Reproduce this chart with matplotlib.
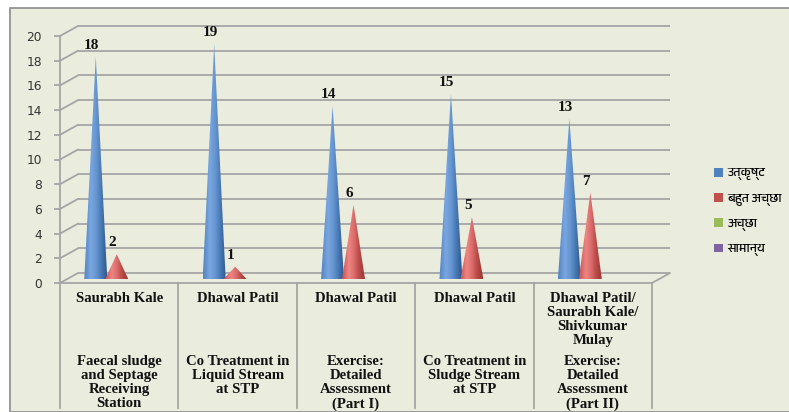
import numpy as np
import matplotlib
matplotlib.use("Agg")
import matplotlib.pyplot as plt
from matplotlib.patches import Rectangle, Patch, PathPatch, ConnectionPatch
from matplotlib.path import Path
from matplotlib.colors import LinearSegmentedColormap
import matplotlib.font_manager as fm
from matplotlib.ft2font import FT2Font

# ---- data ----
presenters = ["Saurabh Kale", "Dhawal Patil", "Dhawal Patil", "Dhawal Patil",
              "Dhawal Patil/\nSaurabh Kale/\nShivkumar\nMulay"]
sessions = ["Faecal sludge\nand Septage\nReceiving\nStation",
            "Co Treatment in\nLiquid Stream\nat STP",
            "Exercise:\nDetailed\nAssessment\n(Part I)",
            "Co Treatment in\nSludge Stream\nat STP",
            "Exercise:\nDetailed\nAssessment\n(Part II)"]
series_names = ["उत्कृष्ट", "बहुत अच्छा", "अच्छा", "सामान्य"]
excellent = [18, 19, 14, 15, 13]
very_good = [2, 1, 6, 5, 7]
good = [0, 0, 0, 0, 0]
average = [0, 0, 0, 0, 0]
y_ticks = [0, 2, 4, 6, 8, 10, 12, 14, 16, 18, 20]

series_values = [excellent, very_good, good, average]
series_colors = ["#4F81BD", "#C0504D", "#9BBB59", "#8064A2"]
cone_shades = [("#2E5790", "#79A6E0"), ("#9E3431", "#EE8583"),
               ("#6E8C35", "#B9D77F"), ("#5A4380", "#A48BC6")]


def find_devanagari_font():
    found = []
    for f in fm.fontManager.ttflist:
        try:
            if 0x0909 in FT2Font(f.fname).get_charmap():
                found.append(f.name)
        except Exception:
            continue
    # prefer a dedicated Devanagari face when one exists
    found.sort(key=lambda n: (0 if "Devanagari" in n else 1, n))
    return found[0] if found else None


deva = find_devanagari_font()
legend_family = ([deva] if deva else []) + ["Noto Sans", "DejaVu Sans"]

W, H = 789, 412
fig = plt.figure(figsize=(W / 100, H / 100), dpi=100)
fig.patch.set_facecolor("white")

# chart area background
fig.patches.append(Rectangle((10 / W, 0), 1.0, (H - 8) / H, transform=fig.transFigure,
                             facecolor="#EAEDDD", edgecolor="#8C8C8C", lw=1.2, zorder=-10))

GRID = "#A5A5A5"
LW = 1.3
SERIF = "Liberation Serif"


def px_axes(left, y0, y20, right):
    return [left / W, (H - y0) / H, (right - left) / W, (y0 - y20) / H]


# front plane (value axis and floor front edge)
ax = fig.add_axes(px_axes(60, 283, 36, 652))
# back wall plane
ax_back = fig.add_axes(px_axes(78, 273, 26, 670))
# plane in which the cones stand
ax_cone = fig.add_axes(px_axes(68, 279, 32, 660))

for a in (ax, ax_back, ax_cone):
    a.set_xlim(-0.5, 4.5)
    a.set_ylim(0, 20)
    a.patch.set_visible(False)
for a in (ax_back, ax_cone):
    a.axis("off")

ax_back.set_zorder(0)
ax.set_zorder(1)
ax_cone.set_zorder(2)

# back wall gridlines and side-wall diagonals
for v in y_ticks:
    ax_back.plot([-0.5, 4.5], [v, v], color=GRID, lw=LW, clip_on=False, solid_capstyle="butt")
    fig.add_artist(ConnectionPatch(xyA=(-0.5, v), coordsA=ax.transData,
                                   xyB=(-0.5, v), coordsB=ax_back.transData,
                                   color=GRID, lw=LW))
# floor right edge
fig.add_artist(ConnectionPatch(xyA=(4.5, 0), coordsA=ax.transData,
                               xyB=(4.5, 0), coordsB=ax_back.transData,
                               color=GRID, lw=LW))

# front axis styling
for s in ("top", "right"):
    ax.spines[s].set_visible(False)
ax.spines["left"].set_color(GRID)
ax.spines["bottom"].set_color(GRID)
ax.spines["left"].set_linewidth(LW)
ax.spines["bottom"].set_linewidth(LW)
ax.set_yticks(y_ticks)
ax.set_yticklabels([str(t) for t in y_ticks], fontsize=8.8, color="#333333",
                   family="DejaVu Sans")
ax.tick_params(axis="y", length=4, width=LW, color=GRID, pad=9)
ax.set_xticks([])

# category table lines
for k in range(6):
    ax.axvline(-0.5 + k, ymin=-0.505, ymax=0, color=GRID, lw=LW, clip_on=False)

# category labels
for i in range(5):
    ax.annotate(presenters[i], xy=(i, 0), xytext=(0, -6.5), textcoords="offset points",
                ha="center", va="top", fontsize=10.6, fontweight="bold",
                family=SERIF, linespacing=1.1, color="#111111",
                annotation_clip=False)
    ax.annotate(sessions[i], xy=(i, 0), xytext=(0, -52), textcoords="offset points",
                ha="center", va="top", fontsize=10.6, fontweight="bold",
                family=SERIF, linespacing=1.1, color="#111111",
                annotation_clip=False)

# cones
slot = 0.177
half_w = 0.097
ry = 0.2
t = np.linspace(0, np.pi, 40)
grad = np.linspace(0, 1, 64)
profile = np.interp(grad, [0, 0.3, 0.55, 1.0], [0.55, 1.0, 0.75, 0.0])
img = np.tile(profile, (2, 1))

for s_idx, vals in enumerate(series_values):
    dark, light = cone_shades[s_idx]
    cmap = LinearSegmentedColormap.from_list("c%d" % s_idx, [dark, series_colors[s_idx], light])
    for i, v in enumerate(vals):
        if v <= 0:
            continue
        xc = i + (s_idx - 1.5) * slot
        verts = [(xc, v)] + [(xc + half_w * np.cos(a), -ry * np.sin(a)) for a in t] + [(xc, v)]
        codes = [Path.MOVETO] + [Path.LINETO] * (len(verts) - 2) + [Path.CLOSEPOLY]
        path = Path(verts, codes)
        patch = PathPatch(path, facecolor="none", edgecolor="none", transform=ax_cone.transData)
        ax_cone.add_patch(patch)
        im = ax_cone.imshow(img, cmap=cmap, vmin=0, vmax=1, aspect="auto",
                            extent=[xc - half_w, xc + half_w, -ry, v],
                            interpolation="bilinear", clip_on=True)
        im.set_clip_path(patch)
        ax_cone.annotate(str(v), xy=(xc, v), xytext=(-3, 3.5), textcoords="offset points",
                         ha="center", va="bottom", fontsize=11, fontweight="bold",
                         family=SERIF, color="#111111", annotation_clip=False)

ax_cone.set_xlim(-0.5, 4.5)
ax_cone.set_ylim(0, 20)

# legend
handles = [Patch(facecolor=c, edgecolor="none") for c in series_colors]
fig.legend(handles, series_names, loc="center left", bbox_to_anchor=(708 / W, (H - 212) / H),
           frameon=False, handlelength=0.7, handleheight=0.7,
           handletextpad=0.35, labelspacing=1.0, borderpad=0,
           prop={"family": legend_family, "size": 9})

fig.savefig("out.png", dpi=100, facecolor=fig.get_facecolor())
